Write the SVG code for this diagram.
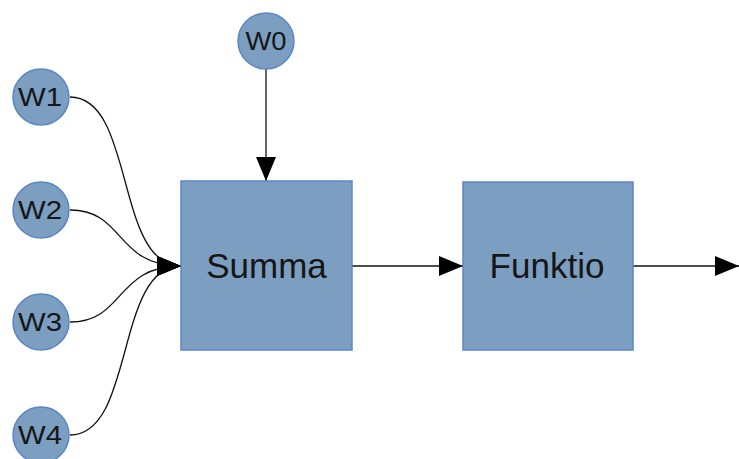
<svg xmlns="http://www.w3.org/2000/svg" width="739" height="459" viewBox="0 0 739 459">
<style>
.node{fill:#7b9ec1;stroke:#5b87c6;stroke-width:1.5}
.lbl{font-family:"Liberation Sans",Arial,sans-serif;fill:#161616;text-anchor:middle}
.big{font-size:35px}
.sm{font-size:26px}
.edge{fill:none;stroke:#111;stroke-width:1.3}
</style>
<defs>
<marker id="ah" viewBox="0 0 24 20" refX="24" refY="10" markerWidth="24" markerHeight="20" markerUnits="userSpaceOnUse" orient="auto">
<path d="M0,0 L24,10 L0,20 Z" fill="#000"/>
</marker>
</defs>
<rect width="739" height="459" fill="#fff"/>
<g id="edges">
<path class="edge" d="M70,97 C135,97 115,266 181,266" marker-end="url(#ah)"/>
<path class="edge" d="M70,210 C125,210 115,266 181,266" marker-end="url(#ah)"/>
<path class="edge" d="M70,322 C125,322 115,266 181,266" marker-end="url(#ah)"/>
<path class="edge" d="M70,435 C135,435 115,266 181,266" marker-end="url(#ah)"/>
<path class="edge" d="M266,69 L266,181" marker-end="url(#ah)"/>
<path class="edge" d="M352,266 L463,266" marker-end="url(#ah)"/>
<path class="edge" d="M633,266 L739,266" marker-end="url(#ah)"/>
</g>
<g id="summa">
<rect class="node" x="181" y="181" width="171" height="169"/>
<text class="lbl big" x="266.5" y="278">Summa</text>
</g>
<g id="funktio">
<rect class="node" x="463" y="182" width="170" height="168"/>
<text class="lbl big" x="547" y="278">Funktio</text>
</g>
<g id="w0">
<circle class="node" cx="266" cy="41" r="28"/>
<text class="lbl sm" x="266" y="50" textLength="41" lengthAdjust="spacingAndGlyphs">W0</text>
</g>
<g id="w1">
<circle class="node" cx="41" cy="97" r="28"/>
<text class="lbl sm" x="40" y="106" textLength="44" lengthAdjust="spacingAndGlyphs">W1</text>
</g>
<g id="w2">
<circle class="node" cx="41" cy="210" r="28"/>
<text class="lbl sm" x="40" y="219" textLength="44" lengthAdjust="spacingAndGlyphs">W2</text>
</g>
<g id="w3">
<circle class="node" cx="41" cy="322" r="28"/>
<text class="lbl sm" x="40" y="331" textLength="44" lengthAdjust="spacingAndGlyphs">W3</text>
</g>
<g id="w4">
<circle class="node" cx="41" cy="435" r="28"/>
<text class="lbl sm" x="40" y="444" textLength="44" lengthAdjust="spacingAndGlyphs">W4</text>
</g>
</svg>
